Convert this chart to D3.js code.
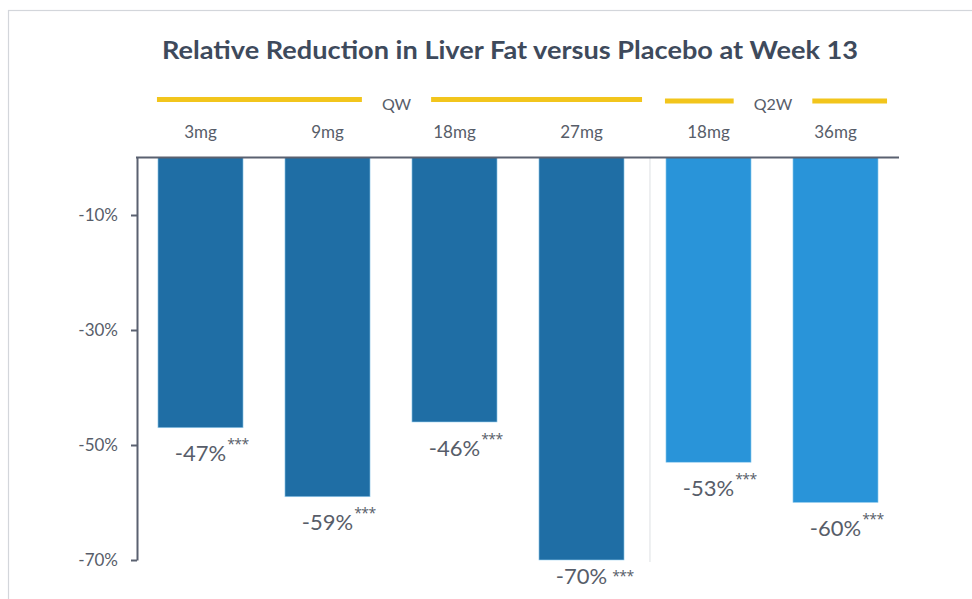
<!DOCTYPE html>
<html>
<head>
<meta charset="utf-8">
<script src="https://cdn.jsdelivr.net/npm/d3@7"></script>
<style>
  html, body { margin: 0; padding: 0; background: #ffffff; }
  svg { display: block; font-family: Lato, "Open Sans", sans-serif; }
</style>
</head>
<body>
<svg id="chart" width="972" height="599"></svg>
<script>
// ---- data ----
const categories = ["3mg", "9mg", "18mg", "27mg", "18mg ", "36mg"];
const categoryLabels = ["3mg", "9mg", "18mg", "27mg", "18mg", "36mg"];
const values = [-47, -59, -46, -70, -53, -60];
const valueLabels = ["-47%", "-59%", "-46%", "-70%", "-53%", "-60%"];
const significance = ["***", "***", "***", "***", "***", "***"];
const regimen = ["QW", "QW", "QW", "QW", "Q2W", "Q2W"];
const groups = ["QW", "Q2W"];
const yTicks = [-10, -30, -50, -70];
const title = "Relative Reduction in Liver Fat versus Placebo at Week 13";

// ---- layout ----
const svg = d3.select("#chart");
const colors = { QW: "#1f6ea5", Q2W: "#2994d9" };
const textColor = "#575d69";
const axisColor = "#5a6170";

// frame
svg.append("rect")
  .attr("x", 8.5).attr("y", 10.5)
  .attr("width", 1000).attr("height", 700)
  .attr("fill", "none").attr("stroke", "#d3d6db").attr("stroke-width", 1.2);

const x = d3.scaleBand()
  .domain(categories)
  .range([137, 899])
  .paddingInner(0.33)
  .paddingOuter(0.165);

const y = d3.scaleLinear()
  .domain([0, -70])
  .range([157.5, 560]);

// title
svg.append("text")
  .attr("x", 510).attr("y", 58.5)
  .attr("text-anchor", "middle")
  .attr("font-size", 24.5)
  .attr("font-weight", 700)
  .attr("fill", "#3e4a5c")
  .attr("textLength", 696)
  .attr("lengthAdjust", "spacingAndGlyphs")
  .text(title);

// group brackets (yellow lines with label)
groups.forEach(g => {
  const cats = categories.filter((c, i) => regimen[i] === g);
  const x0 = x(cats[0]) - 1;
  const x1 = x(cats[cats.length - 1]) + x.bandwidth() + (g === "QW" ? 18 : 9);
  const cx = (x0 + x1) / 2 - 3;
  const lineY = g === "QW" ? 99.5 : 101;
  const t = svg.append("text")
    .attr("x", cx).attr("y", 110)
    .attr("text-anchor", "middle")
    .attr("font-size", 16)
    .attr("fill", textColor)
    .text(g);
  const w = t.node().getComputedTextLength();
  const gap = 20;
  svg.append("line")
    .attr("x1", x0).attr("x2", cx - w / 2 - gap)
    .attr("y1", lineY).attr("y2", lineY)
    .attr("stroke", "#f2c51c").attr("stroke-width", 5);
  svg.append("line")
    .attr("x1", cx + w / 2 + gap).attr("x2", x1)
    .attr("y1", lineY).attr("y2", lineY)
    .attr("stroke", "#f2c51c").attr("stroke-width", 5);
});

// category labels
svg.selectAll("text.cat")
  .data(categories)
  .join("text")
  .attr("class", "cat")
  .attr("x", d => x(d) + x.bandwidth() / 2)
  .attr("y", 137.5)
  .attr("text-anchor", "middle")
  .attr("font-size", 17)
  .attr("fill", textColor)
  .text((d, i) => categoryLabels[i]);

// separator between regimens
const sepX = x(categories[4]) - 16;
svg.append("line")
  .attr("x1", sepX).attr("x2", sepX)
  .attr("y1", y(0)).attr("y2", y(-70) + 2)
  .attr("stroke", "#e3e5e8").attr("stroke-width", 1.2);

// bars
svg.selectAll("rect.bar")
  .data(values)
  .join("rect")
  .attr("class", "bar")
  .attr("x", (d, i) => x(categories[i]))
  .attr("y", y(0))
  .attr("width", x.bandwidth())
  .attr("height", d => y(d) - y(0))
  .attr("fill", (d, i) => colors[regimen[i]])
  .attr("stroke", "#9fd2f0")
  .attr("stroke-width", 0.6);

// y axis
const yAxis = d3.axisLeft(y)
  .tickValues(yTicks)
  .tickFormat(d => d + "%")
  .tickSize(6)
  .tickSizeOuter(0)
  .tickPadding(13);
const ga = svg.append("g")
  .attr("transform", "translate(137,0)")
  .call(yAxis);
ga.select(".domain").attr("stroke", axisColor).attr("stroke-width", 2);
ga.selectAll(".tick line").attr("stroke", axisColor).attr("stroke-width", 2);
ga.selectAll(".tick text")
  .attr("font-family", "Lato, sans-serif")
  .attr("font-size", 17)
  .attr("fill", textColor);

// baseline (zero line)
svg.append("line")
  .attr("x1", 136).attr("x2", 899)
  .attr("y1", y(0)).attr("y2", y(0))
  .attr("stroke", axisColor).attr("stroke-width", 2.2);

// value labels
values.forEach((v, i) => {
  const cx = x(categories[i]) + x.bandwidth() / 2;
  const by = Math.min(y(v) + 33.5, 584);
  const near = y(v) + 33.5 > 584;
  const t = svg.append("text")
    .attr("x", cx).attr("y", by)
    .attr("text-anchor", "middle")
    .attr("font-size", 22)
    .attr("fill", textColor)
    .text(valueLabels[i]);
  const w = t.node().getComputedTextLength();
  svg.append("text")
    .attr("x", cx + w / 2 + (near ? 5 : 1))
    .attr("y", by - (near ? 3 : 12))
    .attr("font-family", "'Open Sans', sans-serif")
    .attr("font-size", 14)
    .attr("letter-spacing", -0.5)
    .attr("fill", textColor)
    .text(significance[i]);
});
</script>
</body>
</html>
